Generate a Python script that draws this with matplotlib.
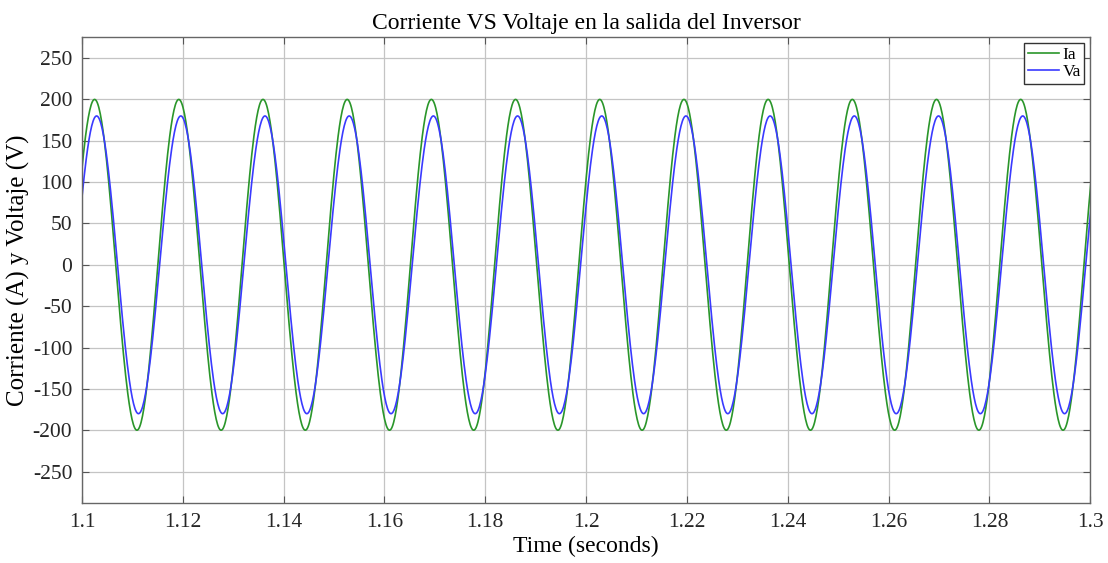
import numpy as np
import matplotlib
matplotlib.use('Agg')
import matplotlib.pyplot as plt
from matplotlib.ticker import FormatStrFormatter

# extrema of each waveform (time in s, value),
# including the first one just outside each edge of the window
ia_ext_t = [1.0942, 1.1025, 1.1109, 1.1192, 1.1276, 1.1359, 1.1443, 1.1526, 1.1610,
            1.1693, 1.1777, 1.1860, 1.1944, 1.2027, 1.2111, 1.2194, 1.2278, 1.2361,
            1.2445, 1.2528, 1.2612, 1.2695, 1.2779, 1.2862, 1.2946, 1.3029]
ia_ext_v = [-200, 200, -200, 200, -200, 200, -200, 200, -200,
            200, -200, 200, -200, 200, -200, 200, -200, 200,
            -200, 200, -200, 200, -200, 200, -200, 200]
va_ext_t = [1.0946, 1.1029, 1.1112, 1.1196, 1.1279, 1.1363, 1.1446, 1.1530, 1.1613,
            1.1697, 1.1780, 1.1864, 1.1947, 1.2031, 1.2114, 1.2198, 1.2281, 1.2365,
            1.2448, 1.2532, 1.2615, 1.2699, 1.2782, 1.2866, 1.2949, 1.3033]
va_ext_v = [-180, 180, -180, 180, -180, 180, -180, 180, -180,
            180, -180, 180, -180, 180, -180, 180, -180, 180,
            -180, 180, -180, 180, -180, 180, -180, 180]

xticks = [1.1, 1.12, 1.14, 1.16, 1.18, 1.2, 1.22, 1.24, 1.26, 1.28, 1.3]
yticks = [-250, -200, -150, -100, -50, 0, 50, 100, 150, 200, 250]


def trace(ext_t, ext_v, n=60):
    # half-cosine arcs between consecutive extrema
    ts, vs = [], []
    for i in range(len(ext_t) - 1):
        t0, t1 = ext_t[i], ext_t[i + 1]
        v0, v1 = ext_v[i], ext_v[i + 1]
        s = np.linspace(0, 1, n, endpoint=False)
        ts.append(t0 + s * (t1 - t0))
        vs.append((v0 + v1) / 2 + (v0 - v1) / 2 * np.cos(np.pi * s))
    ts.append([ext_t[-1]])
    vs.append([ext_v[-1]])
    return np.concatenate(ts), np.concatenate(vs)


plt.rcParams['font.family'] = ['Liberation Serif', 'DejaVu Serif']
plt.rcParams['axes.unicode_minus'] = False

fig = plt.figure(figsize=(11.08, 5.63), dpi=100)
ax = fig.add_axes([0.074, 0.1066, 0.910, 0.827])

t, v = trace(ia_ext_t, ia_ext_v)
ax.plot(t, v, color='#2a962a', lw=1.2, label='Ia')
t, v = trace(va_ext_t, va_ext_v)
ax.plot(t, v, color='#3a3aff', lw=1.2, label='Va')

ax.set_xlim(1.1, 1.3)
ax.set_ylim(-288, 275)
ax.set_xticks(xticks)
ax.set_yticks(yticks)
ax.xaxis.set_major_formatter(FormatStrFormatter('%g'))
ax.grid(True, color='#c4c4c4', lw=0.9)
ax.set_axisbelow(True)
ax.tick_params(direction='in', top=True, right=True, labelsize=15.5,
               length=5, color='#555555', labelcolor='#262626', pad=7)
for sp in ax.spines.values():
    sp.set_color('#666666')
    sp.set_linewidth(1.0)

ax.set_title('Corriente VS Voltaje en la salida del Inversor', fontsize=17, pad=6)
ax.set_xlabel('Time (seconds)', fontsize=17, labelpad=3)
ax.set_ylabel('Corriente (A) y Voltaje (V)', fontsize=18, labelpad=2)

leg = ax.legend(loc='upper right', fontsize=12.5, fancybox=False, framealpha=1,
                edgecolor='#333333', handlelength=1.8, borderpad=0.2,
                labelspacing=0.05, handletextpad=0.2, borderaxespad=0.35)
leg.get_frame().set_linewidth(1.0)

fig.savefig('out.png', dpi=100)
